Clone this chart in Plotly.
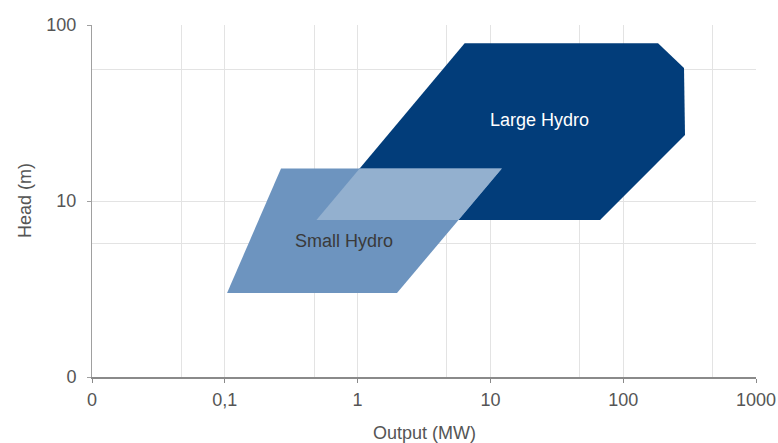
import numpy as np
import plotly.graph_objects as go

# ---- data ----
large_output = [0.49, 6.4, 183, 287, 292, 67]      # MW
large_head = [7.8, 78.7, 78.7, 57, 23.7, 7.8]      # m
small_output = [0.104, 0.265, 12.2, 1.98]          # MW
small_head = [3.0, 15.3, 15.3, 3.0]                # m

x_tickvals = [0.01, 0.1, 1, 10, 100, 1000]
x_ticktext = ["0", "0,1", "1", "10", "100", "1000"]
y_tickvals = [1, 10, 100]
y_ticktext = ["0", "10", "100"]
x_minor = [0.047, 0.47, 4.7, 47, 470]
y_minor = [5.7, 56]

labels = ["Large Hydro", "Small Hydro"]
label_x = [23.6, 0.79]
label_y = [28.8, 5.93]
x_title = "Output (MW)"
y_title = "Head (m)"


# ---- overlap of the two regions (computed in log space) ----
def clip(subject, clipper):
    def area(p):
        return sum(p[i][0] * p[(i + 1) % len(p)][1] - p[(i + 1) % len(p)][0] * p[i][1]
                   for i in range(len(p)))
    sgn = 1 if area(clipper) > 0 else -1

    def inside(p, a, b):
        return sgn * ((b[0] - a[0]) * (p[1] - a[1]) - (b[1] - a[1]) * (p[0] - a[0])) >= 0

    def inter(p, q, a, b):
        x1, y1 = p; x2, y2 = q; x3, y3 = a; x4, y4 = b
        den = (x1 - x2) * (y3 - y4) - (y1 - y2) * (x3 - x4)
        t = ((x1 - x3) * (y3 - y4) - (y1 - y3) * (x3 - x4)) / den
        return (x1 + t * (x2 - x1), y1 + t * (y2 - y1))

    out = list(subject)
    n = len(clipper)
    for i in range(n):
        a = clipper[i]; b = clipper[(i + 1) % n]
        inp = out; out = []
        if not inp:
            break
        s = inp[-1]
        for e in inp:
            if inside(e, a, b):
                if not inside(s, a, b):
                    out.append(inter(s, e, a, b))
                out.append(e)
            elif inside(s, a, b):
                out.append(inter(s, e, a, b))
            s = e
    return out


L = list(zip(np.log10(large_output), np.log10(large_head)))
S = list(zip(np.log10(small_output), np.log10(small_head)))
ov = clip(S, L)
ov_x = [10 ** p[0] for p in ov]
ov_y = [10 ** p[1] for p in ov]

fig = go.Figure()
fig.add_trace(go.Scatter(x=large_output, y=large_head, fill="toself", mode="lines",
                         line=dict(width=0), fillcolor="#023d7a", hoverinfo="skip",
                         showlegend=False))
fig.add_trace(go.Scatter(x=small_output, y=small_head, fill="toself", mode="lines",
                         line=dict(width=0), fillcolor="#6d94bf", hoverinfo="skip",
                         showlegend=False))
fig.add_trace(go.Scatter(x=ov_x, y=ov_y, fill="toself", mode="lines",
                         line=dict(width=0), fillcolor="#93b0cf", hoverinfo="skip",
                         showlegend=False))

FS = 18
font_family = "Liberation Sans, Arial, sans-serif"
grid = "#e3e3e3"
txt = "#555555"

fig.add_annotation(x=np.log10(label_x[0]), y=np.log10(label_y[0]), text=labels[0],
                   showarrow=False, font=dict(size=FS, color="white"))
fig.add_annotation(x=np.log10(label_x[1]), y=np.log10(label_y[1]), text=labels[1],
                   showarrow=False, font=dict(size=FS, color="#3a3a3a"))

W, H = 778, 443
ML, MR, MT, MB = 92, 22, 25, 66
pw, ph = W - ML - MR, H - MT - MB
fig.add_annotation(xref="paper", yref="paper", x=0.5, y=-56 / ph, text=x_title,
                   showarrow=False, xanchor="center", yanchor="middle",
                   font=dict(size=FS, color=txt))
fig.add_annotation(xref="paper", yref="paper", x=-67 / pw, y=0.5, text=y_title,
                   showarrow=False, xanchor="center", yanchor="middle", textangle=-90,
                   font=dict(size=FS, color=txt))

fig.update_layout(
    width=W, height=H,
    margin=dict(l=ML, r=MR, t=MT, b=MB),
    plot_bgcolor="white", paper_bgcolor="white",
    font=dict(family=font_family, size=FS, color=txt),
    xaxis=dict(
        type="log", range=[-2, 3], automargin=False,
        tickmode="array", tickvals=x_tickvals, ticktext=x_ticktext,
        showgrid=True, gridcolor=grid, gridwidth=1,
        showline=True, linecolor="#8a8a8a", linewidth=1.5,
        ticks="outside", ticklen=4, tickcolor="#8a8a8a",
        ticklabelstandoff=2, ticklabeloverflow="allow",
        zeroline=False,
        minor=dict(tickmode="array", tickvals=x_minor, showgrid=True,
                   gridcolor=grid, gridwidth=1, ticks=""),
        tickfont=dict(size=FS, color=txt),
    ),
    yaxis=dict(
        type="log", range=[0, 2], automargin=False,
        tickmode="array", tickvals=y_tickvals, ticktext=y_ticktext,
        showgrid=True, gridcolor=grid, gridwidth=1,
        showline=True, linecolor="#a0a0a0", linewidth=1,
        ticks="outside", ticklen=4, tickcolor="#a0a0a0",
        ticklabelstandoff=7, ticklabeloverflow="allow",
        zeroline=False,
        minor=dict(tickmode="array", tickvals=y_minor, showgrid=True,
                   gridcolor=grid, gridwidth=1, ticks=""),
        tickfont=dict(size=FS, color=txt),
    ),
)

# remove the page's default body margin so the figure fills the window exactly
fig.write_html("out.html",
               config={"displayModeBar": False},
               post_script="document.body.style.margin='0';"
                           "document.body.style.overflow='hidden';")
